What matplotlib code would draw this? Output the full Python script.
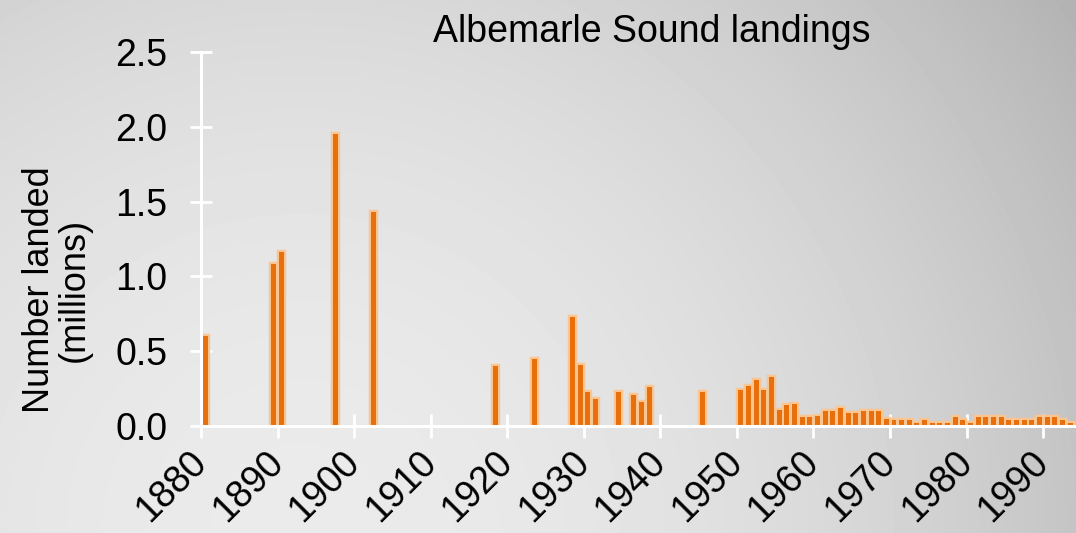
import numpy as np
import matplotlib
matplotlib.use('Agg')
import matplotlib.pyplot as plt
from matplotlib.transforms import ScaledTranslation

plt.rcParams['font.family'] = ['Liberation Sans', 'DejaVu Sans']

# landings per year, millions of fish
years = [1880, 1889, 1890, 1897, 1902, 1918, 1923, 1928, 1929, 1930, 1931,
         1934, 1936, 1937, 1938, 1945,
         1950, 1951, 1952, 1953, 1954, 1955, 1956, 1957, 1958, 1959,
         1960, 1961, 1962, 1963, 1964, 1965, 1966, 1967, 1968, 1969,
         1970, 1971, 1972, 1973, 1974, 1975, 1976, 1977, 1978, 1979,
         1980, 1981, 1982, 1983, 1984, 1985, 1986, 1987, 1988, 1989,
         1990, 1991, 1992, 1993]
landed = [0.60, 1.08, 1.16, 1.95, 1.43, 0.40, 0.45, 0.73, 0.41, 0.23, 0.18,
          0.23, 0.21, 0.16, 0.26, 0.23,
          0.24, 0.27, 0.31, 0.24, 0.33, 0.11, 0.14, 0.15, 0.06, 0.06,
          0.07, 0.10, 0.10, 0.12, 0.09, 0.09, 0.10, 0.10, 0.10, 0.05,
          0.04, 0.04, 0.04, 0.02, 0.04, 0.02, 0.02, 0.02, 0.06, 0.04,
          0.02, 0.06, 0.06, 0.06, 0.06, 0.04, 0.04, 0.04, 0.04, 0.06,
          0.06, 0.06, 0.04, 0.02]
yticks = [0.0, 0.5, 1.0, 1.5, 2.0, 2.5]
xticks = list(range(1880, 2000, 10))
title = 'Albemarle Sound landings'
ylabel = 'Number landed\n(millions)'

W, H = 1076, 533
fig = plt.figure(figsize=(W / 100, H / 100), dpi=100)

# grey slide-style background, lighter toward lower left, darker top right
bg = fig.add_axes([0, 0, 1, 1], zorder=-10)
yy, xx = np.mgrid[0:H, 0:W]
d = np.hypot(xx - 300, yy - 533) / 1000
shade = np.clip(0.92 - 0.25 * d ** 2, 0, 1)
bg.imshow(shade, cmap='gray', vmin=0, vmax=1, aspect='auto', interpolation='bilinear')
bg.axis('off')

ax = fig.add_axes([201 / W, 107 / H, 875 / W, 374 / H])
ax.patch.set_alpha(0)

x = np.array(years) + 0.2
# soft glow under each bar, then the solid bar
ax.bar(x, landed, width=0.65, align='edge', color='#e8700c',
       edgecolor='#fbc592', linewidth=3.2, zorder=2)
ax.bar(x, landed, width=0.65, align='edge', color='#e8700c', linewidth=0, zorder=3)

ax.set_xlim(1880, 1994.3)
ax.set_ylim(0, 2.5)
ax.set_yticks(yticks)
ax.set_yticklabels([f'{v:.1f}' for v in yticks])
ax.set_xticks(xticks)
ax.set_xticklabels([str(t) for t in xticks], rotation=45, ha='right',
                   va='center', rotation_mode='anchor')
shift = ScaledTranslation(0.10, -0.04, fig.dpi_scale_trans)
for lbl in ax.get_xticklabels():
    lbl.set_transform(lbl.get_transform() + shift)

for side in ('top', 'right'):
    ax.spines[side].set_visible(False)
for side in ('left', 'bottom'):
    ax.spines[side].set_color('white')
    ax.spines[side].set_linewidth(2.2)
    ax.spines[side].set_zorder(4)
ax.tick_params(axis='y', direction='inout', length=16, width=2, color='white',
               labelsize=27, pad=16)
ax.tick_params(axis='x', direction='inout', length=17, width=2, color='white',
               labelsize=27, pad=14)

fig.text(652 / W, 1 - 42 / H, title, ha='center', va='baseline', fontsize=27)
fig.text(57 / W, 1 - 290 / H, ylabel, rotation=90, ha='center', va='center',
         multialignment='center', fontsize=26, linespacing=1.0)

fig.savefig('out.png', dpi=100)
